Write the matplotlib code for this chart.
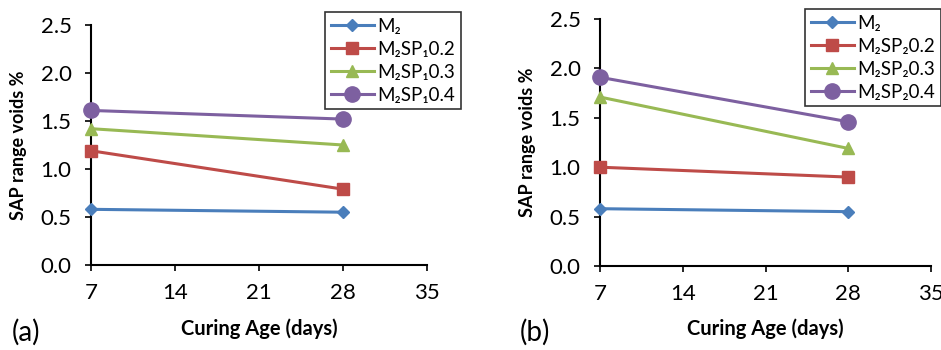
import matplotlib
matplotlib.use("Agg")
import matplotlib.pyplot as plt

plt.rcParams['font.family'] = ['Lato', 'DejaVu Sans']

ages = [7, 28]
x_ticks = [7, 14, 21, 28, 35]
y_ticks = [0.0, 0.5, 1.0, 1.5, 2.0, 2.5]

labels_a = ["M\u2082", "M\u2082SP\u20810.2", "M\u2082SP\u20810.3", "M\u2082SP\u20810.4"]
labels_b = ["M\u2082", "M\u2082SP\u20820.2", "M\u2082SP\u20820.3", "M\u2082SP\u20820.4"]

a_m2 = [0.58, 0.55]
a_02 = [1.19, 0.79]
a_03 = [1.42, 1.25]
a_04 = [1.61, 1.52]

b_m2 = [0.58, 0.55]
b_02 = [1.00, 0.90]
b_03 = [1.71, 1.19]
b_04 = [1.91, 1.46]

colors = ["#4A7EBB", "#BE4B48", "#98B954", "#7D60A0"]
markers = ["D", "s", "^", "o"]
msizes = [6, 8, 8, 11]

fig = plt.figure(figsize=(9.41, 3.5), dpi=100)
ax_a = fig.add_axes([91/941, 1-265/350, (427-91)/941, (265-25)/350])
ax_b = fig.add_axes([600/941, 1-266/350, (931-600)/941, (266-19)/350])

def draw(ax, series, labels, leg_anchor, letter, letter_x, xl_y, yl_x):
    for vals, c, m, ms, lab in zip(series, colors, markers, msizes, labels):
        ax.plot(ages, vals, color=c, marker=m, markersize=ms, linewidth=2.2,
                label=lab, clip_on=False, zorder=3)
    ax.set_xlim(7, 35)
    ax.set_ylim(0, 2.5)
    ax.set_xticks(x_ticks)
    ax.set_yticks(y_ticks)
    ax.set_yticklabels([f"{v:.1f}" for v in y_ticks])
    for s in ["top", "right"]:
        ax.spines[s].set_visible(False)
    for s in ["left", "bottom"]:
        ax.spines[s].set_linewidth(1.5)
        ax.spines[s].set_color("black")
    ax.tick_params(axis="both", direction="out", length=4, width=1.2, labelsize=16)
    ax.tick_params(axis="x", pad=9)
    ax.tick_params(axis="y", pad=10)
    ax.set_xlabel("Curing Age (days)", fontsize=14.5, fontweight="bold", va="center")
    ax.xaxis.set_label_coords(0.5, xl_y)
    ax.set_ylabel("SAP range voids %", fontsize=13, fontweight="bold", va="center")
    ax.yaxis.set_label_coords(yl_x, 0.5)
    leg = ax.legend(loc="upper left", bbox_to_anchor=leg_anchor,
                    bbox_transform=fig.transFigure, fontsize=13.5,
                    frameon=True, fancybox=False, edgecolor="black",
                    handlelength=2.3, handletextpad=0.2, borderpad=0.3,
                    labelspacing=0.32, borderaxespad=0)
    leg.get_frame().set_linewidth(1.2)
    fig.text(letter_x, 1-332/350, letter, fontsize=20, va="center", ha="left")

draw(ax_a, [a_m2, a_02, a_03, a_04], labels_a, (325/941, 1-12/350), "(a)", 12/941,
     -(329-265)/240, (19-91)/336)
draw(ax_b, [b_m2, b_02, b_03, b_04], labels_b, (805/941, 1-9/350), "(b)", 520/941,
     -(329-266)/247, (527-600)/331)

fig.savefig("out.png", dpi=100)
